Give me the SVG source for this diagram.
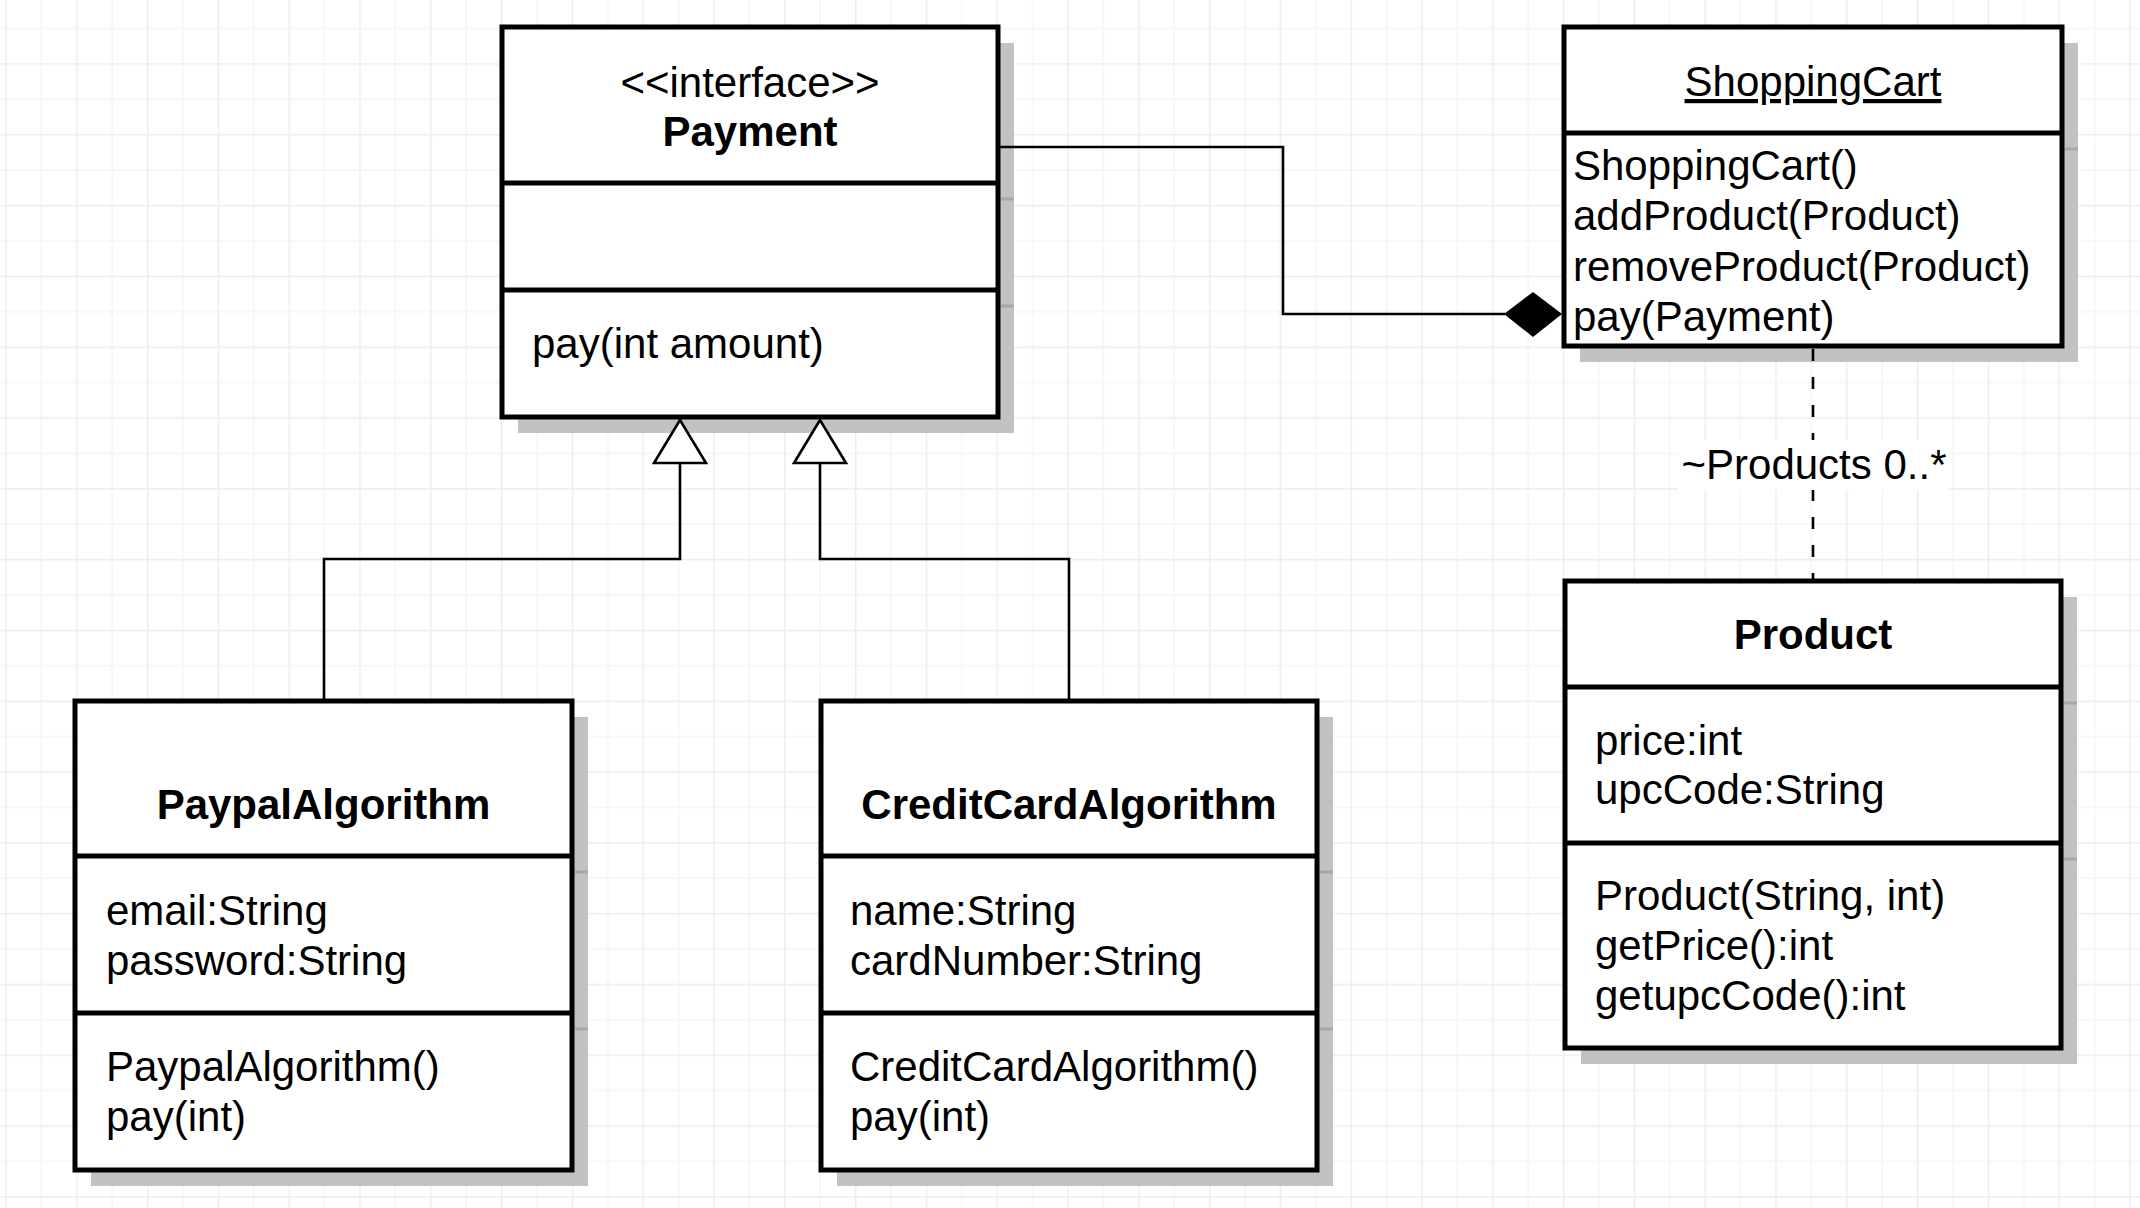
<svg xmlns="http://www.w3.org/2000/svg" width="2140" height="1208" viewBox="0 0 2140 1208">
<defs>
<pattern id="grid" patternUnits="userSpaceOnUse" x="5.3" y="63.3" width="70.8" height="70.8">
<rect width="70.8" height="70.8" fill="#ffffff"/>
<path d="M36.1 0V70.8M0 36.1H70.8" stroke="#f5f5fa" stroke-width="1.4" fill="none"/>
<path d="M0.7 0V70.8M0 0.7H70.8" stroke="#ebebf5" stroke-width="1.4" fill="none"/>
</pattern>
</defs>
<style>
.box{fill:#ffffff;stroke:#000000;stroke-width:5}
.div{stroke:#000000;stroke-width:5}
.shadow{fill:#c2c2c2}
.sstub{stroke:#a8a8a8;stroke-width:3}
text{font-family:"Liberation Sans",Arial,Helvetica,sans-serif;font-size:42px;fill:#000000}
.b{font-weight:bold}
.c{text-anchor:middle}
.u{text-decoration:underline}
.edge{fill:none;stroke:#000000;stroke-width:2.6}
.tri{fill:#ffffff;stroke:#000000;stroke-width:2.6;stroke-linejoin:miter}
.dash{fill:none;stroke:#000000;stroke-width:2.6;stroke-dasharray:12 16}
</style>
<rect x="0" y="0" width="2140" height="1208" fill="url(#grid)"/>

<g id="payment">
<rect class="shadow" x="518" y="43" width="496" height="390"/>
<line class="sstub" x1="1001" y1="199" x2="1014" y2="199"/>
<line class="sstub" x1="1001" y1="306" x2="1014" y2="306"/>
<rect class="box" x="502" y="27" width="496" height="390"/>
<line class="div" x1="502" y1="183" x2="998" y2="183"/>
<line class="div" x1="502" y1="290" x2="998" y2="290"/>
<text class="c" x="750" y="97">&lt;&lt;interface&gt;&gt;</text>
<text class="c b" x="750" y="146">Payment</text>
<text x="532" y="358">pay(int amount)</text>
</g>

<g id="shoppingcart">
<rect class="shadow" x="1580" y="43" width="498" height="319"/>
<line class="sstub" x1="2065" y1="149" x2="2078" y2="149"/>
<rect class="box" x="1564" y="27" width="498" height="319"/>
<line class="div" x1="1564" y1="133" x2="2062" y2="133"/>
<text class="c u" x="1813" y="96">ShoppingCart</text>
<text x="1573" y="180">ShoppingCart()</text>
<text x="1573" y="230">addProduct(Product)</text>
<text x="1573" y="281">removeProduct(Product)</text>
<text x="1573" y="331">pay(Payment)</text>
</g>

<g id="product">
<rect class="shadow" x="1581" y="597" width="496" height="467"/>
<line class="sstub" x1="2064" y1="703" x2="2077" y2="703"/>
<line class="sstub" x1="2064" y1="859" x2="2077" y2="859"/>
<rect class="box" x="1565" y="581" width="496" height="467"/>
<line class="div" x1="1565" y1="687" x2="2061" y2="687"/>
<line class="div" x1="1565" y1="843" x2="2061" y2="843"/>
<text class="c b" x="1813" y="649">Product</text>
<text x="1595" y="755">price:int</text>
<text x="1595" y="804">upcCode:String</text>
<text x="1595" y="910">Product(String, int)</text>
<text x="1595" y="960">getPrice():int</text>
<text x="1595" y="1010">getupcCode():int</text>
</g>

<g id="paypalalgorithm">
<rect class="shadow" x="91" y="717" width="497" height="469"/>
<line class="sstub" x1="575" y1="872" x2="588" y2="872"/>
<line class="sstub" x1="575" y1="1029" x2="588" y2="1029"/>
<rect class="box" x="75" y="701" width="497" height="469"/>
<line class="div" x1="75" y1="856" x2="572" y2="856"/>
<line class="div" x1="75" y1="1013" x2="572" y2="1013"/>
<text class="c b" x="323.5" y="819">PaypalAlgorithm</text>
<text x="106" y="925">email:String</text>
<text x="106" y="975">password:String</text>
<text x="106" y="1081">PaypalAlgorithm()</text>
<text x="106" y="1131">pay(int)</text>
</g>

<g id="creditcardalgorithm">
<rect class="shadow" x="837" y="717" width="496" height="469"/>
<line class="sstub" x1="1320" y1="872" x2="1333" y2="872"/>
<line class="sstub" x1="1320" y1="1029" x2="1333" y2="1029"/>
<rect class="box" x="821" y="701" width="496" height="469"/>
<line class="div" x1="821" y1="856" x2="1317" y2="856"/>
<line class="div" x1="821" y1="1013" x2="1317" y2="1013"/>
<text class="c b" x="1069" y="819">CreditCardAlgorithm</text>
<text x="850" y="925">name:String</text>
<text x="850" y="975">cardNumber:String</text>
<text x="850" y="1081">CreditCardAlgorithm()</text>
<text x="850" y="1131">pay(int)</text>
</g>

<g id="connectors">
<polyline class="edge" points="1000,147 1283,147 1283,314 1505,314"/>
<polygon points="1504,314 1533,292 1562,314 1533,337" fill="#000000"/>
<polyline class="edge" points="324,699 324,559 680,559 680,463"/>
<polygon class="tri" points="680,420 654,463 706,463"/>
<polyline class="edge" points="1069,699 1069,559 820,559 820,463"/>
<polygon class="tri" points="820,420 794,463 846,463"/>
<line class="dash" x1="1813" y1="349" x2="1813" y2="579"/>
<rect x="1678" y="440" width="270" height="50" fill="#ffffff"/>
<text class="c" x="1814" y="479">~Products 0..*</text>
</g>
</svg>
